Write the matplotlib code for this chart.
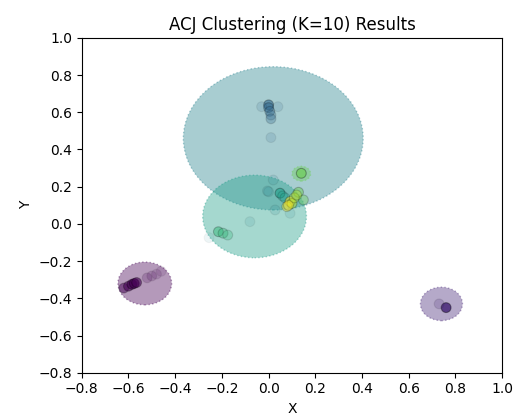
import matplotlib
matplotlib.use("Agg")
import matplotlib.pyplot as plt
from matplotlib.patches import Circle
import numpy as np

# cluster circles (centre, radius, cluster id)
circ_x = [-0.53, 0.74, 0.02, -0.06, 0.14]
circ_y = [-0.32, -0.43, 0.46, 0.04, 0.27]
circ_r = [0.115, 0.09, 0.385, 0.222, 0.04]
circ_k = [0, 1, 4, 5, 7]

# data points (x, y, cluster id, opacity)
pts_x = [-0.62, -0.60, -0.585, -0.575, -0.565, -0.52, -0.50, -0.48, -0.46,
         0.76, 0.73,
         0.0, 0.0, 0.005, 0.01, 0.01, -0.03, 0.04, 0.01,
         -0.005, 0.02, 0.0, 0.028, 0.092, -0.08, -0.255,
         0.049, 0.06, 0.07,
         -0.215, -0.195, -0.175,
         0.14, 0.128, 0.149,
         0.092, 0.078, 0.10, 0.11, 0.085, 0.12]
pts_y = [-0.345, -0.335, -0.325, -0.32, -0.315, -0.29, -0.28, -0.27, -0.255,
         -0.45, -0.43,
         0.64, 0.625, 0.605, 0.585, 0.565, 0.63, 0.63, 0.464,
         0.177, 0.236, 0.173, 0.075, 0.057, 0.012, -0.074,
         0.165, 0.15, 0.14,
         -0.042, -0.05, -0.06,
         0.272, 0.17, 0.129,
         0.12, 0.093, 0.11, 0.14, 0.10, 0.155]
pts_k = [0, 0, 0, 0, 0, 0, 0, 0, 0,
         1, 1,
         3, 3, 3, 3, 3, 3, 3, 3,
         4, 4, 4, 4, 4, 4, 4,
         5, 5, 5,
         6, 6, 6,
         7, 7, 7,
         9, 9, 8, 8, 9, 8]
pts_a = [0.5, 0.6, 0.7, 0.7, 0.6, 0.2, 0.18, 0.15, 0.12,
         0.85, 0.2,
         0.6, 0.5, 0.4, 0.3, 0.3, 0.15, 0.15, 0.15,
         0.15, 0.15, 0.15, 0.15, 0.12, 0.12, 0.08,
         0.6, 0.3, 0.3,
         0.5, 0.4, 0.3,
         0.7, 0.5, 0.4,
         0.5, 0.4, 0.5, 0.4, 0.4, 0.4]

cmap = plt.get_cmap("viridis")

fig = plt.figure(figsize=(5.14, 4.16), dpi=100)
ax = fig.add_axes([0.159, 0.104, 0.818, 0.805])

for x, y, r, k in zip(circ_x, circ_y, circ_r, circ_k):
    col = cmap(k / 9)
    ax.add_patch(Circle((x, y), r, facecolor=col, edgecolor=col,
                        alpha=0.4, linestyle=":", linewidth=1.0))

face = np.array([cmap(k / 9) for k in pts_k])
face[:, 3] = pts_a
edge = np.zeros_like(face)
edge[:, 3] = np.array(pts_a) * 0.45
ax.scatter(pts_x, pts_y, s=50, c=face, edgecolors=edge, linewidths=0.8)

ax.set_xlim(-0.8, 1.0)
ax.set_ylim(-0.8, 1.0)
ax.set_xticks(np.arange(-0.8, 1.01, 0.2))
ax.set_yticks(np.arange(-0.8, 1.01, 0.2))
ax.set_xlabel("X")
ax.set_ylabel("Y")
ax.set_title("ACJ Clustering (K=10) Results")

fig.savefig("out.png", dpi=100)
